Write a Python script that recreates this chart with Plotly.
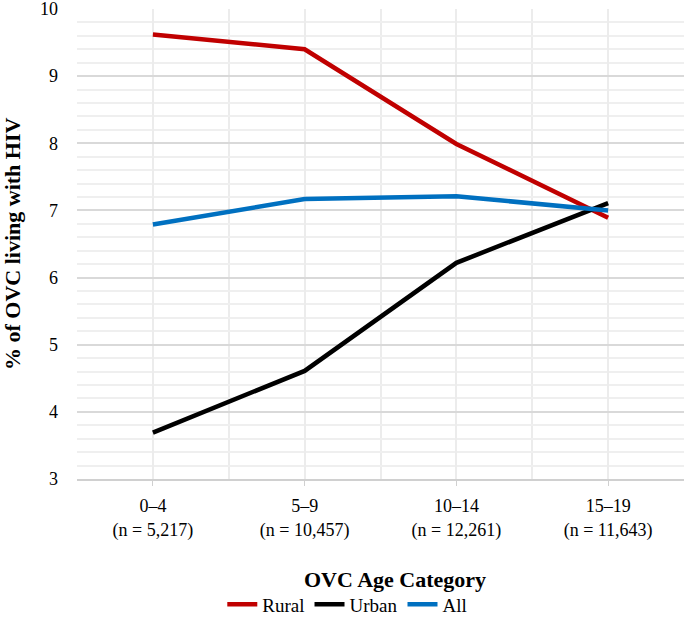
import plotly.graph_objects as go

# OVC age categories and sample sizes
AGE_GROUPS = ["0–4", "5–9", "10–14", "15–19"]
SAMPLE_N = ["5,217", "10,457", "12,261", "11,643"]

# % of OVC living with HIV
RURAL = [9.62, 9.40, 7.99, 6.89]
URBAN = [3.69, 4.61, 6.22, 7.11]
ALL = [6.79, 7.17, 7.21, 7.00]

SERIES = [("Rural", RURAL, "#C00000"),
          ("Urban", URBAN, "#000000"),
          ("All", ALL, "#0070C0")]

Y_TICKS = [3, 4, 5, 6, 7, 8, 9, 10]

FONT = "Liberation Serif, Times New Roman, serif"

xpos = list(range(len(AGE_GROUPS)))
ticktext = [f"{a}<br>(n = {n})" for a, n in zip(AGE_GROUPS, SAMPLE_N)]

fig = go.Figure()
for name, vals, color in SERIES:
    fig.add_trace(go.Scatter(
        x=xpos, y=vals, mode="lines", name=name,
        line=dict(color=color, width=4.5),
    ))

fig.update_layout(
    width=685, height=620,
    paper_bgcolor="white", plot_bgcolor="white",
    margin=dict(l=77, r=1, t=9, b=141),
    font=dict(family=FONT, size=18, color="black"),
    showlegend=True,
    legend=dict(orientation="h", xref="container", yref="container",
                x=0.507, xanchor="center", y=0.025, yanchor="middle",
                font=dict(family=FONT, size=19), tracegroupgap=0),
)
fig.update_xaxes(
    range=[-0.5, 3.5], tickvals=xpos, ticktext=ticktext,
    showgrid=True, gridcolor="#ececec", gridwidth=1.5, zeroline=False,
    ticks="outside", ticklen=5, tickcolor="#d0d0d0", ticklabelstandoff=5,
    showline=True, linecolor="#d0d0d0", linewidth=1.5,
    minor=dict(dtick=0.5, tick0=-0.5, showgrid=True, gridcolor="#ececec", gridwidth=1.5),
    tickfont=dict(family=FONT, size=18),
    automargin=False,
)
fig.update_yaxes(
    range=[3, 10], tickvals=Y_TICKS,
    showgrid=True, gridcolor="#d9d9d9", gridwidth=1.5, zeroline=False,
    minor=dict(dtick=0.2, tick0=3, showgrid=True, gridcolor="#efefef", gridwidth=1.5),
    ticks="", ticklabelstandoff=18, ticklabeloverflow="allow",
    tickfont=dict(family=FONT, size=18),
    automargin=False,
)

# axis titles placed as annotations to sit where the reference has them
fig.add_annotation(text="<b>OVC Age Category</b>", xref="paper", yref="paper",
                   x=0.524, y=-0.214, xanchor="center", yanchor="middle",
                   showarrow=False, font=dict(family=FONT, size=22))
fig.add_annotation(text="<b>% of OVC living with HIV</b>", xref="paper", yref="paper",
                   x=0, y=0.5, xshift=-65, xanchor="center", yanchor="middle",
                   textangle=-90, showarrow=False, font=dict(family=FONT, size=22))

# the page body has a default 8px margin; drop it so the figure sits at the corner
fig.write_html("out.html", config={"displayModeBar": False},
               post_script="document.body.style.margin='0';")
